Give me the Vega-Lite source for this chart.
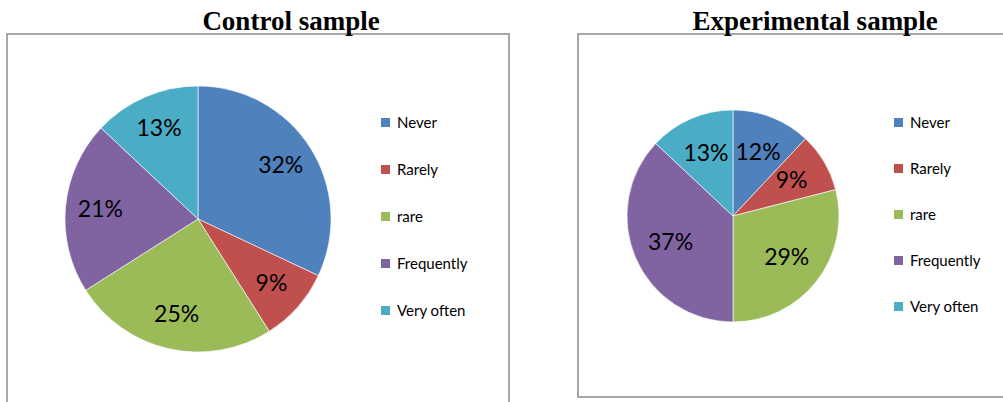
{
  "$schema": "https://vega.github.io/schema/vega-lite/v6.json",
  "background": "white",
  "padding": {"left": 6, "top": 7, "right": 0, "bottom": 0},
  "spacing": 67,
  "config": {
    "view": {"stroke": "#8a8a8a", "strokeWidth": 1.5},
    "font": "Lato",
    "title": {"font": "Liberation Serif", "fontSize": 27, "fontWeight": "bold", "color": "#000000", "baseline": "alphabetic", "offset": 0, "dy": 6},
    "legend": {
      "title": null,
      "symbolType": "square",
      "symbolSize": 81,
      "symbolStrokeWidth": 0,
      "labelFont": "Lato",
      "labelFontSize": 15,
      "labelColor": "#000000",
      "labelOffset": 4,
      "direction": "vertical"
    }
  },
  "datasets": {
    "control": [
      {"answer": "Never", "rank": 1, "share": 0.32},
      {"answer": "Rarely", "rank": 2, "share": 0.09},
      {"answer": "rare", "rank": 3, "share": 0.25},
      {"answer": "Frequently", "rank": 4, "share": 0.21},
      {"answer": "Very often", "rank": 5, "share": 0.13}
    ],
    "experimental": [
      {"answer": "Never", "rank": 1, "share": 0.12},
      {"answer": "Rarely", "rank": 2, "share": 0.09},
      {"answer": "rare", "rank": 3, "share": 0.29},
      {"answer": "Frequently", "rank": 4, "share": 0.37},
      {"answer": "Very often", "rank": 5, "share": 0.13}
    ]
  },
  "resolve": {"scale": {"color": "independent", "theta": "independent"}, "legend": {"color": "independent"}},
  "hconcat": [
    {
      "title": {"text": "Control sample", "dx": 33},
      "width": 502,
      "height": 380,
      "view": {"stroke": "#8a8a8a", "strokeWidth": 1.5},
      "data": {"name": "control"},
      "encoding": {
        "theta": {"field": "share", "type": "quantitative", "stack": true},
        "order": {"field": "rank", "type": "ordinal"}
      },
      "layer": [
        {
          "mark": {"type": "arc", "x": 191, "y": 185, "radius": 133, "stroke": "#ffffff", "strokeWidth": 0.6},
          "encoding": {
            "color": {
              "field": "answer",
              "type": "nominal",
              "scale": {
                "domain": ["Never", "Rarely", "rare", "Frequently", "Very often"],
                "range": ["#4F81BD", "#C0504D", "#9BBB59", "#8064A2", "#4BACC6"]
              },
              "legend": {"orient": "none", "legendX": 371, "legendY": 81, "rowPadding": 31}
            }
          }
        },
        {
          "mark": {"type": "text", "x": 191, "y": 185, "radius": 98, "fontSize": 23, "font": "Lato", "fill": "#000000"},
          "encoding": {
            "detail": {"field": "answer", "type": "nominal"},
            "text": {"field": "share", "type": "quantitative", "format": ".0%"}
          }
        }
      ]
    },
    {
      "title": {"text": "Experimental sample"},
      "width": 474,
      "height": 363,
      "view": {"stroke": "#8a8a8a", "strokeWidth": 1.5},
      "data": {"name": "experimental"},
      "encoding": {
        "theta": {"field": "share", "type": "quantitative", "stack": true},
        "order": {"field": "rank", "type": "ordinal"}
      },
      "layer": [
        {
          "mark": {"type": "arc", "x": 155, "y": 182, "radius": 106, "stroke": "#ffffff", "strokeWidth": 0.6},
          "encoding": {
            "color": {
              "field": "answer",
              "type": "nominal",
              "scale": {
                "domain": ["Never", "Rarely", "rare", "Frequently", "Very often"],
                "range": ["#4F81BD", "#C0504D", "#9BBB59", "#8064A2", "#4BACC6"]
              },
              "legend": {"orient": "none", "legendX": 313, "legendY": 81, "rowPadding": 30}
            }
          }
        },
        {
          "mark": {"type": "text", "x": 155, "y": 182, "radius": 68, "fontSize": 23, "font": "Lato", "fill": "#000000"},
          "encoding": {
            "detail": {"field": "answer", "type": "nominal"},
            "text": {"field": "share", "type": "quantitative", "format": ".0%"}
          }
        }
      ]
    }
  ]
}
